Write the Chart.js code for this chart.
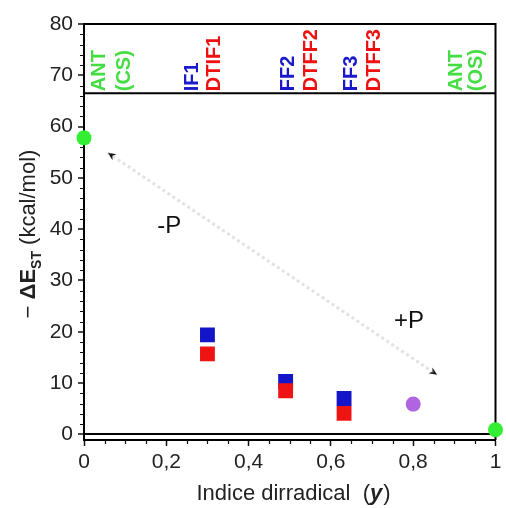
<!DOCTYPE html>
<html>
<head>
<meta charset="utf-8">
<script src="https://cdn.jsdelivr.net/npm/chart.js@4.4.1/dist/chart.umd.min.js"></script>
<style>
  html, body { margin: 0; padding: 0; background: #fff; }
  #wrap { width: 506px; height: 508px; }
</style>
</head>
<body>
<div id="wrap"><canvas id="c" width="506" height="508"></canvas></div>
<script>
// ---- data ----
const xTickValues = [0, 0.2, 0.4, 0.6, 0.8, 1];
const xTickLabels = ['0', '0,2', '0,4', '0,6', '0,8', '1'];
const yTickValues = [0, 10, 20, 30, 40, 50, 60, 70, 80];
const yTickLabels = ['0', '10', '20', '30', '40', '50', '60', '70', '80'];

const antX = [0, 1];
const antY = [57.8, 0.9];
const blueX = [0.30, 0.49, 0.632];
const blueY = [19.4, 10.3, 7.0];
const redX = [0.30, 0.49, 0.632];
const redY = [15.7, 8.5, 4.1];
const purpleX = [0.80];
const purpleY = [5.9];
const arrowX = [0.058, 0.858];
const arrowY = [54.9, 11.6];

const topLabels = ['ANT', '(CS)', 'IF1', 'DTIF1', 'FF2', 'DTFF2', 'FF3', 'DTFF3', 'ANT', '(OS)'];
const topLabelX = [0.034, 0.097, 0.262, 0.315, 0.495, 0.550, 0.648, 0.704, 0.902, 0.952];
const topLabelKind = ['g', 'g', 'b', 'r', 'b', 'r', 'b', 'r', 'g', 'g'];
const bandValue = 66.5;
const noteText = ['-P', '+P'];
const noteX = [0.207, 0.79];
const noteY = [40.5, 22.0];

const xMin = 0, xMax = 1, yMin = -1.1, yMax = 80;

const GREEN = '#33ee33', BLUE = '#1414c8', RED = '#ee1414', PURPLE = '#b064e0';
const TEXTCOL = { g: '#44dd44', b: '#1a1acc', r: '#ee1111' };
const FONT = '"Liberation Sans", Arial, sans-serif';

const pts = (xs, ys) => xs.map((x, i) => ({ x: x, y: ys[i] }));

const decor = {
  id: 'decor',
  beforeDatasetsDraw(chart) {
    const { ctx, chartArea: a, scales: { x, y } } = chart;
    ctx.save();
    // minor ticks
    ctx.strokeStyle = '#111';
    ctx.lineWidth = 1.2;
    ctx.beginPath();
    for (let v = 2; v < 80; v += 2) {
      if (v % 10 === 0) continue;
      const py = Math.round(y.getPixelForValue(v)) + 0.5;
      ctx.moveTo(a.left - 4, py); ctx.lineTo(a.left, py);
    }
    for (let k = 1; k < 20; k++) {
      if (k % 4 === 0) continue;
      const px = Math.round(x.getPixelForValue(k * 0.05)) + 0.5;
      ctx.moveTo(px, a.bottom); ctx.lineTo(px, a.bottom + 4);
    }
    ctx.stroke();
    // frame top/right and band line
    ctx.strokeStyle = '#000';
    ctx.lineWidth = 2;
    ctx.beginPath();
    ctx.moveTo(a.left, a.top); ctx.lineTo(a.right, a.top); ctx.lineTo(a.right, a.bottom);
    const by = y.getPixelForValue(bandValue);
    ctx.moveTo(a.left, by); ctx.lineTo(a.right, by);
    ctx.stroke();
    // top labels (rotated)
    ctx.font = 'bold 20px ' + FONT;
    ctx.textAlign = 'left';
    ctx.textBaseline = 'middle';
    topLabels.forEach((t, i) => {
      ctx.save();
      ctx.translate(x.getPixelForValue(topLabelX[i]) + 1, by - 2);
      ctx.rotate(-Math.PI / 2);
      ctx.fillStyle = TEXTCOL[topLabelKind[i]];
      ctx.fillText(t, 0, 0);
      ctx.restore();
    });
    // notes
    ctx.fillStyle = '#111';
    ctx.font = '24px ' + FONT;
    ctx.textAlign = 'center';
    noteText.forEach((t, i) => {
      ctx.fillText(t, x.getPixelForValue(noteX[i]), y.getPixelForValue(noteY[i]));
    });
    // arrowheads
    const p0 = { x: x.getPixelForValue(arrowX[0]), y: y.getPixelForValue(arrowY[0]) };
    const p1 = { x: x.getPixelForValue(arrowX[1]), y: y.getPixelForValue(arrowY[1]) };
    const head = (tip, from) => {
      const ang = Math.atan2(tip.y - from.y, tip.x - from.x);
      ctx.save();
      ctx.translate(tip.x, tip.y);
      ctx.rotate(ang);
      ctx.fillStyle = '#111';
      ctx.beginPath();
      ctx.moveTo(0, 0); ctx.lineTo(-8, -3.5); ctx.lineTo(-5.5, 0); ctx.lineTo(-8, 3.5); ctx.closePath();
      ctx.fill();
      ctx.restore();
    };
    head(p0, p1); head(p1, p0);
    ctx.restore();
  },
  afterDraw(chart) {
    const { ctx } = chart;
    ctx.save();
    ctx.fillStyle = '#222';
    // x title
    const s1 = 'Indice dirradical  (', s2 = 'y', s3 = ')';
    ctx.textBaseline = 'alphabetic';
    ctx.font = '22px ' + FONT; const w1 = ctx.measureText(s1).width, w3 = ctx.measureText(s3).width;
    ctx.font = 'italic bold 22px ' + FONT; const w2 = ctx.measureText(s2).width;
    let sx = 293 - (w1 + w2 + w3) / 2;
    ctx.textAlign = 'left';
    ctx.font = '22px ' + FONT; ctx.fillText(s1, sx, 500);
    ctx.font = 'italic bold 22px ' + FONT; ctx.fillText(s2, sx + w1, 500);
    ctx.font = '22px ' + FONT; ctx.fillText(s3, sx + w1 + w2 + 1, 500);
    // y title
    ctx.save();
    ctx.translate(27, 234);
    ctx.rotate(-Math.PI / 2);
    const parts = [
      { t: '\u2212 ', f: '22px ' + FONT, dy: 0 },
      { t: '\u0394E', f: 'bold 22px ' + FONT, dy: 0 },
      { t: 'ST', f: 'bold 14px ' + FONT, dy: 6 },
      { t: ' (kcal/mol)', f: '22px ' + FONT, dy: 0 }
    ];
    let tot = 0;
    parts.forEach(p => { ctx.font = p.f; p.w = ctx.measureText(p.t).width; tot += p.w; });
    let cx = -tot / 2;
    parts.forEach(p => { ctx.font = p.f; ctx.fillText(p.t, cx, 8 + p.dy); cx += p.w; });
    ctx.restore();
    ctx.restore();
  }
};

new Chart(document.getElementById('c'), {
  type: 'scatter',
  data: {
    datasets: [
      { label: 'DT', data: pts(redX, redY), pointStyle: 'rect', pointRadius: 10.5, backgroundColor: RED, borderWidth: 0, order: 0 },
      { label: 'IF/FF', data: pts(blueX, blueY), pointStyle: 'rect', pointRadius: 10.5, backgroundColor: BLUE, borderWidth: 0, order: 1 },
      { label: 'ANT', data: pts(antX, antY), pointRadius: 7.5, backgroundColor: GREEN, borderWidth: 0, order: 0, clip: false },
      { label: 'P', data: pts(purpleX, purpleY), pointRadius: 7.5, backgroundColor: PURPLE, borderWidth: 0, order: 0 },
      { label: 'arrow', data: pts(arrowX, arrowY), showLine: true, pointRadius: 0, borderColor: 'rgba(160,160,160,0.3)', borderWidth: 3, borderDash: [3, 3], order: 5 }
    ]
  },
  options: {
    responsive: false,
    animation: false,
    events: [],
    layout: { padding: { top: 24, right: 6, left: 0, bottom: 0 } },
    plugins: { legend: { display: false }, tooltip: { enabled: false } },
    scales: {
      x: {
        type: 'linear', min: xMin, max: xMax,
        afterFit(s) { s.height = 68; },
        afterBuildTicks(s) { s.ticks = xTickValues.map(v => ({ value: v })); },
        ticks: {
          callback: (v) => { const i = xTickValues.findIndex(t => Math.abs(t - v) < 1e-9); return i >= 0 ? xTickLabels[i] : ''; },
          color: '#222', font: { size: 21, family: FONT }, padding: 4, maxRotation: 0, autoSkip: false
        },
        grid: { drawOnChartArea: false, tickLength: 6, tickColor: '#111', tickWidth: 1.5 },
        border: { display: true, color: '#000', width: 2 }
      },
      y: {
        type: 'linear', min: yMin, max: yMax,
        afterFit(s) { s.width = 84; },
        afterBuildTicks(s) { s.ticks = yTickValues.map(v => ({ value: v })); },
        ticks: {
          callback: (v) => { const i = yTickValues.indexOf(v); return i >= 0 ? yTickLabels[i] : ''; },
          color: '#222', font: { size: 21, family: FONT }, padding: 5, autoSkip: false
        },
        grid: {
          drawOnChartArea: true, tickLength: 6, tickWidth: 1.5, tickColor: '#111',
          color: (c) => (c.tick && c.tick.value === 0 ? '#000' : 'rgba(0,0,0,0)'),
          lineWidth: (c) => (c.tick && c.tick.value === 0 ? 2 : 0)
        },
        border: { display: true, color: '#000', width: 2 }
      }
    }
  },
  plugins: [decor]
});
</script>
</body>
</html>
